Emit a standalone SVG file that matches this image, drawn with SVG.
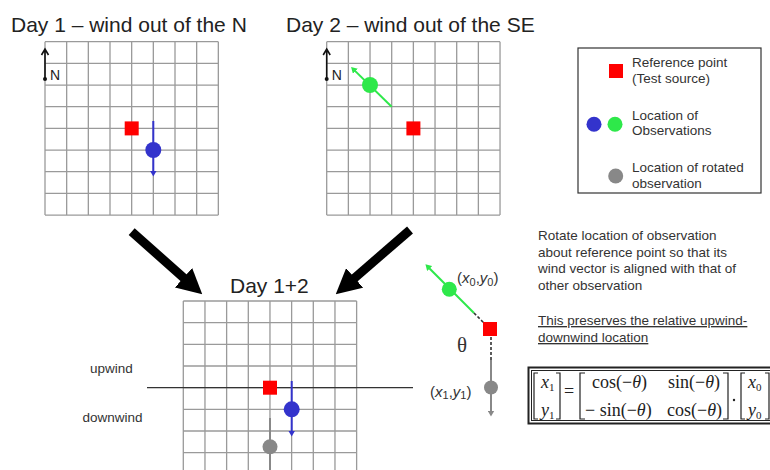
<svg xmlns="http://www.w3.org/2000/svg" width="770" height="470" viewBox="0 0 770 470">
<style>
.title{font-family:"Liberation Sans",Arial,sans-serif;font-size:21px;fill:#222}
.lbl{font-family:"Liberation Sans",Arial,sans-serif;font-size:13.5px;fill:#333}
.nlbl{font-family:"Liberation Sans",Arial,sans-serif;font-size:14px;fill:#222}
.coord{font-family:"Liberation Sans",Arial,sans-serif;font-size:15px;fill:#333}
.math{font-family:"Liberation Serif","Times New Roman",serif;font-size:18px;fill:#222}
.theta{font-family:"Liberation Serif","Times New Roman",serif;font-size:21px;fill:#333}
.grid{fill:none;stroke:#9a9a9a;stroke-width:1.3}
.ref{fill:#ff0000}
.blue{fill:#3333cc}
.green{fill:#2ee84a}
.gray{fill:#888888}
.bvec{stroke:#3333cc;stroke-width:2;fill:none}
.gvec{stroke:#2ee84a;stroke-width:2;fill:none}
.yvec{stroke:#888888;stroke-width:2;fill:none}
.dash{stroke:#333;stroke-width:1.6;stroke-dasharray:3 2;fill:none}
.big{stroke:#000;stroke-width:9;fill:none}
.north{stroke:#111;stroke-width:1.6;fill:none}
.brk{stroke:#222;stroke-width:1.2;fill:none}
</style>
<defs>
<path id="gridpath" class="grid" d="M0,0V173.33M21.67,0V173.33M43.33,0V173.33M65,0V173.33M86.67,0V173.33M108.33,0V173.33M130,0V173.33M151.67,0V173.33M173.33,0V173.33M0,0H173.33M0,21.67H173.33M0,43.33H173.33M0,65H173.33M0,86.67H173.33M0,108.33H173.33M0,130H173.33M0,151.67H173.33M0,173.33H173.33"/>
<g id="northarrow">
<path class="north" d="M0,2V30M-3.5,6L0,0L3.5,6"/>
<circle cx="0" cy="30" r="2" fill="#111"/>
<text class="nlbl" x="5" y="31">N</text>
</g>
<marker id="bigHead" viewBox="0 -13 25 26" refX="1" refY="0" markerWidth="25" markerHeight="26" markerUnits="userSpaceOnUse" orient="auto">
<path d="M0,-13L25,0L0,13z" fill="#000"/>
</marker>
<marker id="hBlue" viewBox="0 -3.5 6 7" refX="0.5" refY="0" markerWidth="6" markerHeight="7" markerUnits="userSpaceOnUse" orient="auto">
<path d="M0,-3.5L6,0L0,3.5z" fill="#3333cc"/>
</marker>
<marker id="hGreen" viewBox="0 -3.5 6 7" refX="0.5" refY="0" markerWidth="6" markerHeight="7" markerUnits="userSpaceOnUse" orient="auto">
<path d="M0,-3.5L6,0L0,3.5z" fill="#2ee84a"/>
</marker>
<marker id="hGray" viewBox="0 -3.5 6 7" refX="0.5" refY="0" markerWidth="6" markerHeight="7" markerUnits="userSpaceOnUse" orient="auto">
<path d="M0,-3.5L6,0L0,3.5z" fill="#888888"/>
</marker>
</defs>
<rect width="770" height="470" fill="#fff"/>

<g id="day1">
<text class="title" x="11" y="32">Day 1 – wind out of the N</text>
<use href="#gridpath" transform="translate(45,41.7)"/>
<use href="#northarrow" transform="translate(45,49)"/>
<rect class="ref" x="124.7" y="121.4" width="14" height="14"/>
<line class="bvec" x1="153.3" y1="121" x2="153.3" y2="171" marker-end="url(#hBlue)"/>
<circle class="blue" cx="153.3" cy="150" r="8"/>
</g>

<g id="day2">
<text class="title" x="286" y="32">Day 2 – wind out of the SE</text>
<use href="#gridpath" transform="translate(326.7,41.7)"/>
<use href="#northarrow" transform="translate(326.7,49)"/>
<rect class="ref" x="406.4" y="121.4" width="14" height="14"/>
<line class="gvec" x1="391.7" y1="106.7" x2="355" y2="70.9" marker-end="url(#hGreen)"/>
<circle class="green" cx="370" cy="85" r="8"/>
</g>

<g id="legend">
<rect x="578" y="48" width="183" height="145" fill="#fff" stroke="#333" stroke-width="1.2"/>
<rect class="ref" x="609" y="64" width="14" height="14"/>
<text class="lbl" x="632" y="67">Reference point</text>
<text class="lbl" x="632" y="83">(Test source)</text>
<circle class="blue" cx="594" cy="124.3" r="7.5"/>
<circle class="green" cx="615" cy="124.3" r="7.5"/>
<text class="lbl" x="632" y="119.5">Location of</text>
<text class="lbl" x="632" y="135">Observations</text>
<circle class="gray" cx="615.7" cy="176" r="7.5"/>
<text class="lbl" x="632" y="171.5">Location of rotated</text>
<text class="lbl" x="632" y="187.5">observation</text>
</g>

<g id="connectors">
<line class="big" x1="131.7" y1="231.7" x2="184.3" y2="278.4" marker-end="url(#bigHead)"/>
<line class="big" x1="410" y1="230" x2="353.9" y2="278.6" marker-end="url(#bigHead)"/>
</g>

<g id="combined">
<text class="title" x="230" y="293">Day 1+2</text>
<use href="#gridpath" transform="translate(183.3,301)"/>
<line x1="147" y1="387.7" x2="413" y2="387.7" stroke="#333" stroke-width="1.3"/>
<text class="lbl" x="90" y="373">upwind</text>
<text class="lbl" x="82.5" y="421.5">downwind</text>
<line class="yvec" x1="270" y1="418" x2="270" y2="472" marker-end="url(#hGray)"/>
<circle class="gray" cx="270" cy="446.7" r="7.5"/>
<rect class="ref" x="263" y="380.7" width="14" height="14"/>
<line class="bvec" x1="291.7" y1="381" x2="291.7" y2="431" marker-end="url(#hBlue)"/>
<circle class="blue" cx="291.7" cy="409.3" r="8"/>
</g>

<g id="rotation">
<line class="gvec" x1="474" y1="313" x2="429.3" y2="268.2" marker-end="url(#hGreen)"/>
<line class="dash" x1="474" y1="313" x2="484" y2="323"/>
<circle class="green" cx="449.3" cy="289.3" r="7.5"/>
<text class="coord" x="457" y="283">(<tspan font-style="italic">x</tspan><tspan font-size="11" dy="2.5">0</tspan><tspan dy="-2.5">,</tspan><tspan font-style="italic">y</tspan><tspan font-size="11" dy="2.5">0</tspan><tspan dy="-2.5">)</tspan></text>
<rect class="ref" x="483" y="322" width="14" height="14"/>
<text class="theta" x="457" y="352">θ</text>
<line class="dash" x1="491" y1="337" x2="491" y2="360"/>
<line class="yvec" x1="491" y1="360" x2="491" y2="411" marker-end="url(#hGray)"/>
<circle class="gray" cx="491" cy="387.5" r="7"/>
<text class="coord" x="430" y="396.5">(<tspan font-style="italic">x</tspan><tspan font-size="11" dy="2.5">1</tspan><tspan dy="-2.5">,</tspan><tspan font-style="italic">y</tspan><tspan font-size="11" dy="2.5">1</tspan><tspan dy="-2.5">)</tspan></text>
</g>

<g id="explanation">
<text class="lbl" x="538" y="240">Rotate location of observation</text>
<text class="lbl" x="538" y="256.7">about reference point so that its</text>
<text class="lbl" x="538" y="273.3">wind vector is aligned with that of</text>
<text class="lbl" x="538" y="290">other observation</text>
<text class="lbl" x="538" y="325" text-decoration="underline">This preserves the relative upwind-</text>
<text class="lbl" x="538" y="342" text-decoration="underline">downwind location</text>
</g>

<g id="equation">
<rect x="528.5" y="367.5" width="250" height="56" fill="#fff" stroke="#222" stroke-width="2"/>
<rect x="531.5" y="370.5" width="250" height="50" fill="none" stroke="#222" stroke-width="1"/>
<path class="brk" d="M538,373H534V419H538M556,373H560V419H556"/>
<text class="math" x="541" y="388"><tspan font-style="italic">x</tspan><tspan font-size="11" dy="3">1</tspan></text>
<text class="math" x="541" y="416"><tspan font-style="italic">y</tspan><tspan font-size="11" dy="3">1</tspan></text>
<text class="math" x="564" y="397">=</text>
<path class="brk" d="M585,373H580V419H585M723,373H728V419H723"/>
<text class="math" x="592" y="388">cos(−<tspan font-style="italic">θ</tspan>)</text>
<text class="math" x="668" y="388">sin(−<tspan font-style="italic">θ</tspan>)</text>
<text class="math" x="585" y="416">− sin(−<tspan font-style="italic">θ</tspan>)</text>
<text class="math" x="667" y="416">cos(−<tspan font-style="italic">θ</tspan>)</text>
<circle cx="734" cy="400" r="1.2" fill="#222"/>
<path class="brk" d="M745,373H741V419H745M765,373H769V419H765"/>
<text class="math" x="748" y="388"><tspan font-style="italic">x</tspan><tspan font-size="11" dy="3">0</tspan></text>
<text class="math" x="748" y="416"><tspan font-style="italic">y</tspan><tspan font-size="11" dy="3">0</tspan></text>
</g>
</svg>
